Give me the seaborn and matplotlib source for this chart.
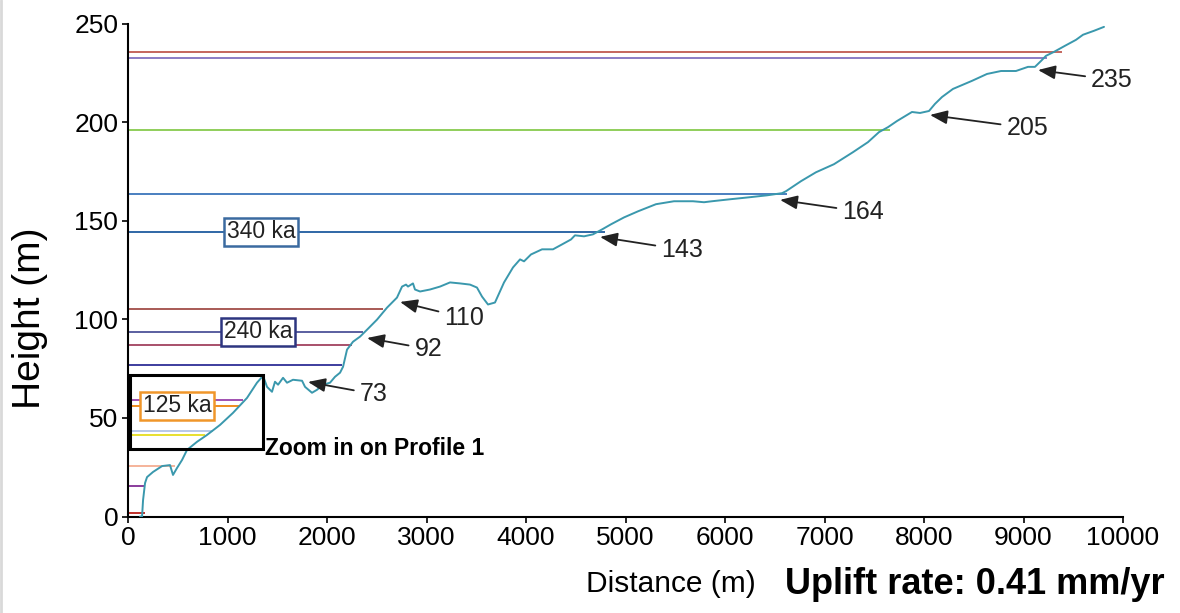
import matplotlib
matplotlib.use("Agg")
import matplotlib.pyplot as plt
import seaborn as sns
import pandas as pd
from matplotlib.patches import Rectangle
from matplotlib.lines import Line2D

# ---------------- data ----------------
profile_dist = [121, 141, 151, 171, 191, 251, 342, 422, 452, 492, 543, 593, 693, 794, 925,
                1055, 1196, 1296, 1357, 1397, 1447, 1477, 1508, 1558, 1598, 1658, 1749, 1779,
                1849, 1899, 1960, 2030, 2080, 2131, 2161, 2201, 2261, 2332, 2402, 2502, 2603,
                2703, 2754, 2794, 2814, 2864, 2884, 2935, 3035, 3136, 3236, 3337, 3437, 3507,
                3558, 3618, 3688, 3779, 3869, 3940, 3980, 4050, 4161, 4271, 4362, 4452, 4492,
                4583, 4673, 4764, 4854, 4985, 5126, 5306, 5487, 5678, 5789, 5869, 6050, 6241,
                6422, 6573, 6613, 6764, 6914, 7095, 7286, 7437, 7548, 7638, 7728, 7879, 7960,
                8050, 8110, 8181, 8291, 8482, 8633, 8774, 8924, 9045, 9115, 9176, 9226, 9306,
                9417, 9527, 9598, 9708, 9809]
profile_height = [0, 0, 8.3, 17.0, 20.0, 22.6, 25.6, 26.1, 21.1, 24.6, 28.7, 33.8, 37.9, 41.4,
                  46.5, 52.6, 60.2, 67.9, 71.4, 65.8, 63.3, 68.4, 66.9, 70.4, 67.9, 69.4, 68.9,
                  65.8, 62.8, 64.3, 66.9, 67.9, 70.9, 73.0, 76.0, 84.7, 88.7, 91.3, 94.8, 99.9,
                  106.0, 111.1, 116.7, 117.7, 116.7, 118.3, 115.2, 114.2, 115.2, 116.7, 118.8,
                  118.3, 117.7, 116.2, 111.6, 107.6, 108.6, 118.8, 126.4, 130.5, 129.5, 133.0,
                  135.6, 135.6, 138.1, 140.6, 142.7, 142.2, 143.2, 145.7, 148.3, 151.8, 154.9,
                  158.5, 160.0, 160.0, 159.5, 160.0, 161.0, 162.0, 163.0, 164.1, 165.1, 170.2,
                  174.7, 178.8, 184.9, 190.0, 195.1, 197.6, 200.7, 205.3, 204.8, 205.8, 209.4,
                  212.9, 217.0, 221.1, 224.6, 226.1, 226.1, 228.2, 228.2, 231.2, 233.8, 235.8,
                  238.9, 241.9, 244.5, 246.5, 248.5]

level_heights = [235.8, 232.7, 196.2, 163.7, 144.4, 105.3, 93.7, 87.0, 76.9,
                 59.1, 56.1, 43.4, 41.4, 25.6, 15.5, 1.8]
level_ends = [9390, 9240, 7660, 6620, 4790, 2560, 2360, 2250, 2150,
              1160, 1130, 855, 775, 472, 171, 171]
level_colors = ['#c4665e', '#8a7cc6', '#8fce5a', '#4a7fc0', '#2f67a6', '#a85a55',
                '#5a5fa0', '#a8506a', '#3d3d9e', '#a050b0', '#ef8c1e', '#b8c8e8',
                '#e8e030', '#f5b39a', '#8a3c9c', '#c0302a']

age_labels = ['340 ka', '240 ka', '125 ka']
age_x = [1337, 1306, 492]
age_y = [144.4, 93.7, 56.1]
age_colors = ['#3b6aa0', '#2d3580', '#f0962a']

ann_labels = ['235', '205', '164', '143', '110', '92', '73']
ann_tip_x = [9146, 8060, 6553, 4744, 2734, 2402, 1809]
ann_tip_y = [226.6, 203.8, 160.7, 141.9, 108.9, 90.6, 68.3]
ann_text_x = [9680, 8830, 7180, 5360, 3180, 2880, 2330]
ann_text_y = [221.6, 197.2, 154.6, 135.4, 100.8, 85.0, 62.2]

x_ticks = list(range(0, 10001, 1000))
y_ticks = [0, 50, 100, 150, 200, 250]

# ---------------- plot ----------------
sns.set_style("ticks")
plt.rcParams['font.family'] = ['Liberation Sans', 'DejaVu Sans']

fig = plt.figure(figsize=(11.8, 6.13), dpi=100)
ax = fig.add_axes([0.1085, 0.1574, 0.8432, 0.8036])

for h, e, c in zip(level_heights, level_ends, level_colors):
    ax.hlines(h, 0, e, colors=c, linewidth=1.4, zorder=2)

df = pd.DataFrame({'dist': profile_dist, 'height': profile_height})
sns.lineplot(data=df, x='dist', y='height', sort=False, estimator=None,
             color='#3a98ad', linewidth=1.4, ax=ax, zorder=3)

for lab, x, y, c in zip(age_labels, age_x, age_y, age_colors):
    ax.text(x, y, lab, fontsize=16.5, ha='center', va='center', color='#222222', zorder=5,
            bbox=dict(boxstyle='square,pad=0.1', facecolor='white', edgecolor=c, linewidth=1.8))

for lab, tx, ty, ex, ey in zip(ann_labels, ann_tip_x, ann_tip_y, ann_text_x, ann_text_y):
    ax.annotate(lab, xy=(tx, ty), xytext=(ex, ey), fontsize=18, ha='left', va='center',
                color='#222222', zorder=6,
                arrowprops=dict(arrowstyle='-|>,head_length=0.75,head_width=0.3',
                                color='#222222', lw=1.3, mutation_scale=14,
                                shrinkA=2, shrinkB=0))

ax.add_patch(Rectangle((20, 34.3), 1337, 37.5, fill=False, edgecolor='black',
                       linewidth=2.2, zorder=4, clip_on=False))
ax.text(1380, 34.3, 'Zoom in on Profile 1', fontsize=16.5, fontweight='bold',
        ha='left', va='center', color='black', zorder=6)

ax.set_xlim(0, 10000)
ax.set_ylim(0, 250)
ax.set_xticks(x_ticks)
ax.set_yticks(y_ticks)
ax.tick_params(axis='both', labelsize=19, length=4, width=1.2, color='black',
               labelcolor='black', pad=3)
ax.set_xlabel('')
ax.set_ylabel('')
for s in ['top', 'right']:
    ax.spines[s].set_visible(False)
for s in ['left', 'bottom']:
    ax.spines[s].set_linewidth(1.5)
    ax.spines[s].set_color('black')

fig.text(30 / 1180, 1 - 318 / 613, 'Height (m)', rotation=90, fontsize=28,
         ha='center', va='center', color='black')
fig.text(671 / 1180, 1 - 584 / 613, 'Distance (m)', fontsize=21.5,
         ha='center', va='center', color='black')
fig.text(785 / 1180, 1 - 584 / 613, 'Uplift rate: 0.41 mm/yr', fontsize=26,
         fontweight='bold', ha='left', va='center', color='black')

fig.add_artist(Line2D([0.001, 0.001], [0, 1], transform=fig.transFigure,
                      color='#d9d9d9', linewidth=2))

fig.savefig('out.png', dpi=100, facecolor='white')
